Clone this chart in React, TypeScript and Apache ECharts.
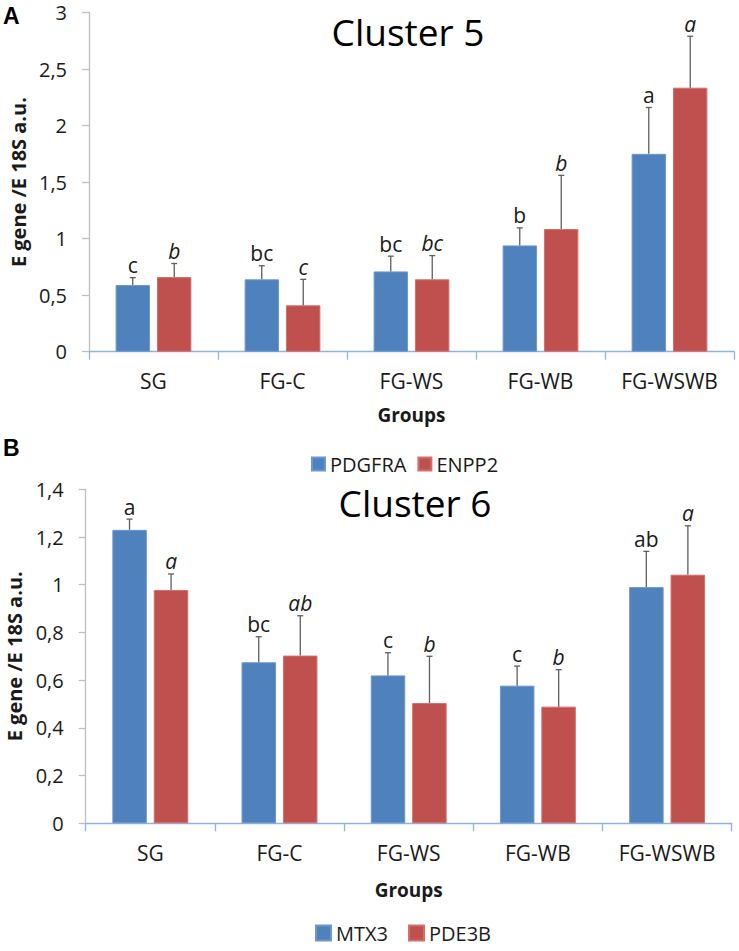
import React, { useEffect, useRef } from "react";
import * as echarts from "echarts";

const categories = ["SG", "FG-C", "FG-WS", "FG-WB", "FG-WSWB"];

// Cluster 5
const pdgfra = [0.59, 0.64, 0.71, 0.94, 1.75];
const pdgfraSd = [0.065, 0.12, 0.135, 0.155, 0.41];
const pdgfraLetters = ["c", "bc", "bc", "b", "a"];
const enpp2 = [0.66, 0.41, 0.64, 1.085, 2.335];
const enpp2Sd = [0.12, 0.23, 0.21, 0.475, 0.455];
const enpp2Letters = ["b", "c", "bc", "b", "a"];

// Cluster 6
const mtx3 = [1.23, 0.675, 0.62, 0.577, 0.99];
const mtx3Sd = [0.045, 0.107, 0.095, 0.082, 0.15];
const mtx3Letters = ["a", "bc", "c", "c", "ab"];
const pde3b = [0.978, 0.703, 0.504, 0.489, 1.042];
const pde3bSd = [0.067, 0.167, 0.196, 0.155, 0.205];
const pde3bLetters = ["a", "ab", "b", "b", "a"];

const BLUE = "#4f81bd";
const RED = "#c0504d";
const FONT = "'Open Sans', sans-serif";

const fmt = (v: number) => String(parseFloat(v.toFixed(2))).replace(".", ",");

function errSeries(
  name: string,
  means: number[],
  sds: number[],
  letters: string[],
  side: number,
  italic: boolean,
  axisIdx: number
) {
  return {
    type: "custom",
    name,
    xAxisIndex: axisIdx,
    yAxisIndex: axisIdx,
    z: 5,
    silent: true,
    data: means.map((m, i) => [i, m, sds[i]]),
    renderItem: (params: any, api: any) => {
      const idx = api.value(0);
      const mean = api.value(1);
      const sd = api.value(2);
      const band = api.size([1, 0])[0];
      const off = band * 0.1608 * side;
      const base = api.coord([idx, mean]);
      const top = api.coord([idx, mean + sd]);
      const x = base[0] + off;
      return {
        type: "group",
        children: [
          {
            type: "line",
            shape: { x1: x, y1: base[1], x2: x, y2: top[1] },
            style: { stroke: "#5f5f5f", lineWidth: 1.3 },
          },
          {
            type: "line",
            shape: { x1: x - 3, y1: top[1], x2: x + 3, y2: top[1] },
            style: { stroke: "#5f5f5f", lineWidth: 1.3 },
          },
          {
            type: "text",
            x: x,
            y: top[1] - 2,
            style: {
              text: letters[params.dataIndex],
              fontFamily: FONT,
              fontSize: 21,
              fontStyle: italic ? "italic" : "normal",
              fill: "#1a1a1a",
              align: "center",
              verticalAlign: "bottom",
            },
          },
        ],
      };
    },
  };
}

export default function App() {
  const ref = useRef<HTMLDivElement>(null);
  useEffect(() => {
    document.body.style.margin = "0";
    const chart = echarts.init(ref.current!, null, { renderer: "svg" });
    const axisLabel = { fontFamily: FONT, fontSize: 20, color: "#1a1a1a" };
    const yAxisCommon = {
      type: "value",
      nameLocation: "middle",
      nameRotate: 90,
      nameTextStyle: { fontFamily: FONT, fontSize: 20, fontWeight: "bold", color: "#1a1a1a" },
      axisLine: { show: true, lineStyle: { color: "#bfbfbf", width: 1.3 } },
      axisTick: { show: true, length: 7, lineStyle: { color: "#bfbfbf", width: 1.3 } },
      splitLine: { show: false },
      axisLabel: { ...axisLabel, margin: 22, formatter: fmt },
    };
    const xAxisCommon = {
      type: "category",
      data: categories,
      name: "Groups",
      nameLocation: "middle",
      nameTextStyle: { fontFamily: FONT, fontSize: 19, fontWeight: "bold", color: "#1a1a1a" },
      axisLine: { show: true, lineStyle: { color: "#8eb4e3", width: 1.3 } },
      axisTick: { show: true, length: 8, lineStyle: { color: "#8eb4e3", width: 1.3 } },
      axisLabel: { ...axisLabel, fontSize: 21, margin: 19 },
    };
    const barCommon = { type: "bar", barWidth: "26.7%", barGap: "20%" };
    const legendText = { fontFamily: FONT, fontSize: 20, color: "#1a1a1a" };
    chart.setOption({
      animation: false,
      grid: [
        { left: 89, right: 5, top: 12.5, height: 339.2, outerBoundsMode: "none", containLabel: false },
        { left: 85.7, right: 7.3, top: 489.3, height: 334, outerBoundsMode: "none", containLabel: false },
      ],
      xAxis: [
        { ...xAxisCommon, gridIndex: 0, nameGap: 54 },
        { ...xAxisCommon, gridIndex: 1, nameGap: 57 },
      ],
      yAxis: [
        { ...yAxisCommon, gridIndex: 0, min: 0, max: 3, interval: 0.5, name: "E gene /E 18S a.u.", nameGap: 61 },
        { ...yAxisCommon, gridIndex: 1, min: 0, max: 1.4, interval: 0.2, name: "E gene /E 18S a.u.", nameGap: 58 },
      ],
      legend: [
        {
          data: ["PDGFRA", "ENPP2"],
          left: 311,
          top: 454,
          padding: 0,
          itemWidth: 13,
          itemHeight: 13,
          itemGap: 11,
          icon: "rect",
          textStyle: legendText,
        },
        {
          data: ["MTX3", "PDE3B"],
          left: 315,
          top: 923,
          padding: 0,
          itemWidth: 15,
          itemHeight: 15,
          itemGap: 20,
          icon: "rect",
          textStyle: legendText,
        },
      ],
      graphic: [
        { type: "text", x: 3, y: 16, style: { text: "A", fontFamily: "'Liberation Sans', Arial, sans-serif", fontSize: 23, fontWeight: "bold", fill: "#000", align: "left", verticalAlign: "middle" } },
        { type: "text", x: 3, y: 448, style: { text: "B", fontFamily: "'Liberation Sans', Arial, sans-serif", fontSize: 23, fontWeight: "bold", fill: "#000", align: "left", verticalAlign: "middle" } },
        { type: "text", x: 408, y: 31, style: { text: "Cluster 5", fontFamily: FONT, fontSize: 37, fill: "#000", align: "center", verticalAlign: "middle" } },
        { type: "text", x: 415, y: 502, style: { text: "Cluster 6", fontFamily: FONT, fontSize: 37, fill: "#000", align: "center", verticalAlign: "middle" } },
      ],
      series: [
        { ...barCommon, name: "PDGFRA", xAxisIndex: 0, yAxisIndex: 0, data: pdgfra, itemStyle: { color: BLUE, borderColor: "#6d98cc", borderWidth: 1 } },
        { ...barCommon, name: "ENPP2", xAxisIndex: 0, yAxisIndex: 0, data: enpp2, itemStyle: { color: RED, borderColor: "#d26f6c", borderWidth: 1 } },
        { ...barCommon, name: "MTX3", xAxisIndex: 1, yAxisIndex: 1, data: mtx3, itemStyle: { color: BLUE, borderColor: "#6d98cc", borderWidth: 1 } },
        { ...barCommon, name: "PDE3B", xAxisIndex: 1, yAxisIndex: 1, data: pde3b, itemStyle: { color: RED, borderColor: "#d26f6c", borderWidth: 1 } },
        errSeries("errPDGFRA", pdgfra, pdgfraSd, pdgfraLetters, -1, false, 0),
        errSeries("errENPP2", enpp2, enpp2Sd, enpp2Letters, 1, true, 0),
        errSeries("errMTX3", mtx3, mtx3Sd, mtx3Letters, -1, false, 1),
        errSeries("errPDE3B", pde3b, pde3bSd, pde3bLetters, 1, true, 1),
      ],
    });
    return () => chart.dispose();
  }, []);
  return <div ref={ref} style={{ width: 739, height: 951 }} />;
}
